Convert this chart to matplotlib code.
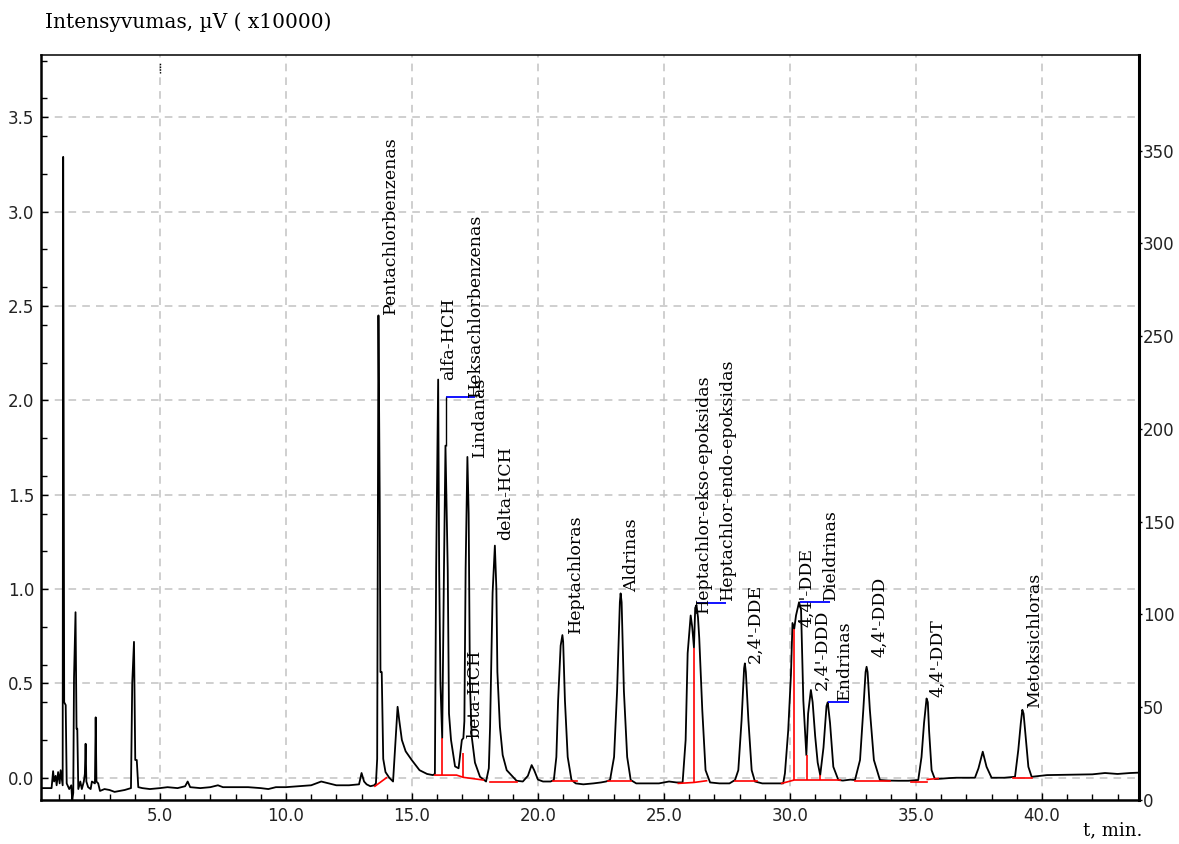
import matplotlib
matplotlib.use("Agg")
import matplotlib.pyplot as plt
from matplotlib.ticker import MultipleLocator, FormatStrFormatter

# ---------------- data ----------------
trace_t = [0.28, 0.70, 0.76, 0.80, 0.86, 0.90, 0.96, 1.02, 1.06, 1.10, 1.14, 1.16, 1.20, 1.26, 1.30,
           1.40, 1.48, 1.52, 1.56, 1.59, 1.65, 1.69, 1.72, 1.76, 1.84, 1.90, 1.98, 2.02, 2.05, 2.08,
           2.15, 2.25, 2.30, 2.42, 2.45, 2.48, 2.55, 2.62, 2.80, 3.00, 3.20, 3.40, 3.60, 3.85, 3.90,
           3.97, 4.02, 4.08, 4.14, 4.30, 4.60, 5.00, 5.30, 5.70, 6.00, 6.10, 6.20, 6.60, 7.00, 7.30,
           7.50, 8.00, 8.50, 9.00, 9.30, 9.60, 10.00, 10.50, 11.00, 11.40, 11.70, 12.00, 12.50, 12.90,
           13.00, 13.10, 13.20, 13.35, 13.50,
           13.57, 13.62, 13.67, 13.72, 13.75, 13.80, 13.86, 13.95, 14.10, 14.25, 14.35, 14.43, 14.50,
           14.60, 14.75, 14.99, 15.30, 15.60, 15.83, 15.91,
           15.96, 16.04, 16.08, 16.13, 16.20, 16.27, 16.33, 16.38, 16.42, 16.47, 16.55, 16.71, 16.85,
           16.92, 16.98, 17.04, 17.08, 17.13, 17.20, 17.25, 17.30, 17.37, 17.50, 17.70, 17.94,
           18.05, 18.10, 18.20, 18.29, 18.35, 18.39, 18.49, 18.60, 18.76, 19.15, 19.40, 19.60, 19.75,
           19.85, 20.00, 20.20, 20.50,
           20.63, 20.73, 20.80, 20.90, 20.97, 21.00, 21.07, 21.18, 21.33, 21.50, 21.80, 22.20, 22.50, 22.70,
           22.86, 23.02, 23.14, 23.25, 23.28, 23.32, 23.41, 23.54, 23.68, 23.90, 24.30, 24.80, 25.20,
           25.50, 25.74,
           25.86, 25.94, 26.06, 26.12, 26.19, 26.24, 26.29, 26.35, 26.40, 26.52, 26.65, 26.83, 27.20, 27.60,
           27.82, 27.95, 28.08, 28.18, 28.21, 28.25, 28.35, 28.48, 28.61, 28.90, 29.30, 29.73,
           29.80, 29.93, 30.04, 30.10, 30.17, 30.24, 30.36, 30.44, 30.53, 30.65, 30.72, 30.83, 30.90,
           31.00, 31.10, 31.20, 31.33, 31.45, 31.50, 31.59, 31.72, 31.92, 32.10, 32.40, 32.58,
           32.78, 32.91, 33.00, 33.04, 33.08, 33.17, 33.33, 33.57, 33.90, 34.30, 34.70, 35.09,
           35.22, 35.32, 35.42, 35.47, 35.52, 35.62, 35.75, 36.00, 36.30, 36.60, 37.00, 37.34,
           37.48, 37.65, 37.80, 38.00, 38.50, 38.93,
           39.06, 39.16, 39.22, 39.27, 39.33, 39.46, 39.59, 40.20, 41.00, 42.00, 42.50, 43.00, 43.50, 43.85]
trace_v = [-0.055, -0.055, 0.035, -0.02, 0.01, -0.04, 0.03, -0.03, 0.04, 0.0, -0.04, 3.29, 0.40, 0.385, -0.03,
           -0.06, -0.04, -0.12, -0.08, 0.53, 0.877, 0.26, 0.26, -0.06, -0.02, -0.06, -0.02, 0.02, 0.18, -0.02,
           -0.05, -0.06, -0.02, -0.03, 0.32, -0.02, -0.03, -0.07, -0.06, -0.065, -0.075, -0.07, -0.065, -0.055, 0.50,
           0.72, 0.094, 0.094, -0.05, -0.055, -0.06, -0.055, -0.05, -0.055, -0.045, -0.02, -0.05, -0.055, -0.05, -0.04,
           -0.05, -0.05, -0.05, -0.055, -0.06, -0.05, -0.05, -0.045, -0.04, -0.02, -0.03, -0.04, -0.04, -0.035,
           0.025, -0.02, -0.035, -0.045, -0.04,
           -0.03, 0.10, 2.45, 1.50, 0.56, 0.56, 0.10, 0.03, 0.0, -0.02, 0.20, 0.376, 0.30,
           0.20, 0.14, 0.094, 0.04, 0.02, 0.014, 0.02,
           1.11, 2.11, 1.10, 0.50, 0.21, 1.10, 1.76, 1.40, 1.10, 0.34, 0.20, 0.06, 0.05,
           0.13, 0.20, 0.21, 0.30, 1.11, 1.70, 1.40, 0.50, 0.22, 0.08, 0.005, -0.02,
           0.05, 0.27, 0.98, 1.23, 1.00, 0.56, 0.27, 0.12, 0.04, -0.016, -0.02, 0.01, 0.067,
           0.04, -0.01, -0.02, -0.02,
           -0.012, 0.11, 0.41, 0.70, 0.756, 0.72, 0.41, 0.11, -0.012, -0.03, -0.035, -0.03, -0.025, -0.02,
           -0.012, 0.11, 0.46, 0.93, 0.977, 0.93, 0.46, 0.11, -0.012, -0.03, -0.03, -0.03, -0.02,
           -0.025, -0.025,
           0.20, 0.66, 0.86, 0.80, 0.69, 0.90, 0.915, 0.85, 0.74, 0.36, 0.04, -0.025, -0.03, -0.03,
           -0.012, 0.04, 0.306, 0.58, 0.606, 0.56, 0.306, 0.04, -0.02, -0.03, -0.03, -0.03,
           0.023, 0.25, 0.55, 0.82, 0.79, 0.86, 0.93, 0.89, 0.41, 0.12, 0.34, 0.465, 0.40,
           0.22, 0.08, 0.014, 0.16, 0.38, 0.40, 0.29, 0.058, -0.012, -0.015, -0.01, -0.012,
           0.094, 0.36, 0.56, 0.588, 0.56, 0.36, 0.094, -0.012, -0.015, -0.016, -0.016, -0.012,
           0.11, 0.29, 0.42, 0.40, 0.25, 0.04, -0.007, -0.005, -0.002, 0.0, 0.0, 0.0,
           0.05, 0.138, 0.058, 0.0, 0.0, 0.005,
           0.147, 0.29, 0.36, 0.34, 0.25, 0.058, 0.005, 0.014, 0.016, 0.018, 0.025, 0.02, 0.025, 0.027]

# integration baselines (red): polylines
red_base_t = [[13.53, 13.99], [15.91, 16.77, 17.04, 17.83], [18.10, 19.15], [20.58, 21.53],
              [22.79, 23.68], [25.57, 26.19, 26.69], [27.82, 28.68], [29.67, 30.17, 31.99],
              [32.58, 33.97], [34.82, 35.45], [35.45, 35.88], [38.85, 39.59]]
red_base_v = [[-0.045, 0.0], [0.014, 0.014, 0.002, -0.012], [-0.02, -0.02], [-0.016, -0.016],
              [-0.016, -0.016], [-0.03, -0.025, -0.016], [-0.017, -0.017], [-0.03, -0.012, -0.012],
              [-0.016, -0.016], [-0.021, -0.021], [-0.009, -0.004], [0.0, 0.0]]
# red drop lines: time, bottom, top
drop_t = [16.20, 17.04, 26.19, 30.17, 30.66, 31.21]
drop_lo = [0.014, 0.002, -0.025, -0.012, -0.012, -0.012]
drop_hi = [0.21, 0.13, 0.69, 0.79, 0.12, 0.014]

# blue label leaders
blue_t0 = [16.35, 26.29, 30.40, 31.52]
blue_t1 = [17.50, 27.48, 31.59, 32.34]
blue_v = [2.016, 0.924, 0.933, 0.40]

# peak labels
label_names = ["Pentachlorbenzenas", "alfa-HCH", "Heksachlorbenzenas", "Lindanas", "beta-HCH",
               "delta-HCH", "Heptachloras", "Aldrinas", "Heptachlor-ekso-epoksidas",
               "Heptachlor-endo-epoksidas", "2,4'-DDE", "4,4'-DDE", "2,4'-DDD", "Dieldrinas",
               "Endrinas", "4,4'-DDD", "4,4'-DDT", "Metoksichloras"]
label_t = [14.13, 16.47, 17.54, 17.66, 17.50, 18.73, 21.47, 23.72, 26.55, 27.54, 28.61, 30.66,
           31.29, 31.60, 32.18, 33.57, 35.87, 39.72]
label_v = [2.46, 2.107, 2.02, 1.70, 0.21, 1.26, 0.765, 0.986, 0.873, 0.94, 0.606, 0.80,
           0.465, 0.94, 0.41, 0.64, 0.43, 0.37]

x_ticks = [5.0, 10.0, 15.0, 20.0, 25.0, 30.0, 35.0, 40.0]
y_ticks = [0.0, 0.5, 1.0, 1.5, 2.0, 2.5, 3.0, 3.5]
y2_ticks = [0, 50, 100, 150, 200, 250, 300, 350]

# ---------------- figure ----------------
W, H = 1179, 844
fig = plt.figure(figsize=(W / 100, H / 100), dpi=100)
ax = fig.add_axes([41 / W, 1 - 800 / H, (1139 - 41) / W, (800 - 55) / H])
ax.set_xlim(0.28, 43.85)
ax.set_ylim(-0.118, 3.83)

grid_kw = dict(color="#c2c2c2", lw=1.1, ls=(0, (5, 4)), zorder=0)
for x in x_ticks:
    ax.axvline(x, **grid_kw)
for y in y_ticks:
    ax.axhline(y, **grid_kw)

ax.plot(trace_t, trace_v, color="black", lw=1.3, zorder=3)
for bt, bv in zip(red_base_t, red_base_v):
    ax.plot(bt, bv, color="red", lw=1.2, zorder=4)
ax.vlines(drop_t, drop_lo, drop_hi, color="red", lw=1.2, zorder=4)
ax.hlines(blue_v, blue_t0, blue_t1, color="blue", lw=1.3, zorder=4)
ax.vlines([16.35], [1.76], [2.016], color="black", lw=1.0, zorder=4)
ax.vlines([5.0], [3.734], [3.787], color="black", lw=1.0, ls=(0, (1, 1)), zorder=4)

serif = "DejaVu Serif"
for name, t, v in zip(label_names, label_t, label_v):
    ax.text(t, v, name, rotation=90, ha="center", va="bottom", fontsize=12.5,
            family=serif, color="black", zorder=5)

ax.set_xticks(x_ticks)
ax.set_yticks(y_ticks)
ax.xaxis.set_major_formatter(FormatStrFormatter("%.1f"))
ax.yaxis.set_major_formatter(FormatStrFormatter("%.1f"))
ax.xaxis.set_minor_locator(MultipleLocator(1.0))
ax.yaxis.set_minor_locator(MultipleLocator(0.2))
ax.tick_params(axis="both", which="major", direction="in", length=5, width=1.0,
               labelsize=12, colors="black", labelcolor="#222222")
ax.tick_params(axis="both", which="minor", direction="in", length=4, width=1.0)
ax.tick_params(axis="x", which="major", pad=5)
ax.tick_params(axis="y", which="major", pad=5)
ax.tick_params(top=False, right=False, which="both")

for side, lw in [("left", 1.8), ("bottom", 1.8), ("right", 2.2), ("top", 1.1)]:
    ax.spines[side].set_linewidth(lw)
    ax.spines[side].set_color("black")

ax2 = ax.twinx()
ax2.set_ylim(0, 401.5)
ax2.set_yticks(y2_ticks)
ax2.tick_params(axis="y", direction="out", length=2, width=1.0, pad=1, labelsize=12,
                labelcolor="#222222")
for s in ax2.spines.values():
    s.set_visible(False)

fig.text(45 / W, 1 - 22 / H, "Intensyvumas, \u00b5V ( x10000)", family=serif, fontsize=14.5,
         ha="left", va="center")
fig.text(1083 / W, 1 - 830 / H, "t, min.", family=serif, fontsize=13, ha="left", va="center")

fig.savefig("out.png", dpi=100)
